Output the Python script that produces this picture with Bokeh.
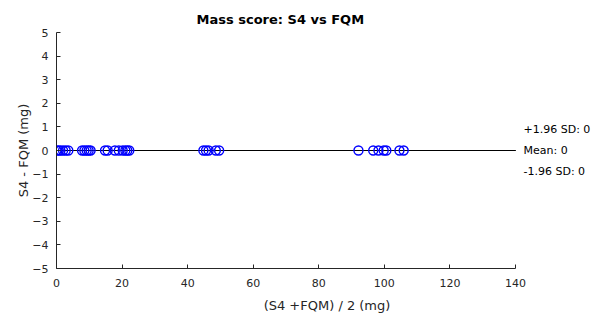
import numpy as np
from bokeh.plotting import figure
from bokeh.models import Range1d, FixedTicker, ColumnDataSource, Title
from bokeh.core.properties import value
from bokeh.embed import file_html
from bokeh.resources import INLINE

title_text = "Mass score: S4 vs FQM"
x_label = "(S4 +FQM) / 2 (mg)"
y_label = "S4 - FQM (mg)"

# Bland-Altman: mean of the two methods (x) and their difference (y)
means = [0.0, 0.6, 1.2, 2.0, 2.8, 3.6,
         7.8, 8.5, 9.2, 9.8, 10.4,
         14.8, 15.6, 17.8, 19.0, 20.2, 21.0, 21.6, 22.2,
         44.8, 45.6, 46.4, 48.6, 49.6,
         92.1, 96.6, 98.2, 99.8, 100.6, 104.6, 105.9]
diffs = [0, 0, 0, 0, 0, 0,
         0, 0, 0, 0, 0,
         0, 0, 0, 0, 0, 0, 0, 0,
         0, 0, 0, 0, 0,
         0, 0, 0, 0, 0, 0, 0]

x_ticks = [0, 20, 40, 60, 80, 100, 120, 140]
y_ticks = [-5, -4, -3, -2, -1, 0, 1, 2, 3, 4, 5]

mean_d = float(np.mean(diffs))
sd_d = float(np.std(diffs, ddof=1))
upper = mean_d + 1.96 * sd_d
lower = mean_d - 1.96 * sd_d
side_labels = [f"+1.96 SD: {upper:g}", f"Mean: {mean_d:g}", f"-1.96 SD: {lower:g}"]
side_y = [upper, mean_d, lower]
side_off = [-21, 0, 21]

FONT = "DejaVu Sans"
AX = "#262626"

W, H = 597, 317
left, right, top, bottom = 56, 0, 32, 49
px_per_unit = (515 - 56) / (x_ticks[-1] - x_ticks[0])
x_end = x_ticks[0] + (W - left - right) / px_per_unit

p = figure(width=W, height=H, output_backend="svg", toolbar_location=None,
           x_range=Range1d(x_ticks[0], x_end), y_range=Range1d(y_ticks[0], y_ticks[-1]),
           min_border_left=left, min_border_right=right, min_border_top=top,
           min_border_bottom=bottom)
p.title = Title(text=title_text, align="left", offset=140, text_font=FONT,
                text_font_size="13px", text_font_style="bold", text_color="black",
                standoff=11)
p.outline_line_color = None
p.background_fill_color = "white"
p.border_fill_color = "white"
p.xgrid.visible = False
p.ygrid.visible = False

for ax in (p.xaxis[0], p.yaxis[0]):
    ax.axis_line_color = AX
    ax.major_tick_line_color = AX
    ax.major_tick_in = 4
    ax.major_tick_out = 0
    ax.minor_tick_line_color = None
    ax.major_label_text_font = FONT
    ax.major_label_text_font_size = "11px"
    ax.major_label_text_color = AX
    ax.axis_label_text_font = FONT
    ax.axis_label_text_font_size = "13px"
    ax.axis_label_text_font_style = "normal"
    ax.axis_label_text_color = AX

p.xaxis.ticker = FixedTicker(ticks=x_ticks)
p.xaxis.bounds = (x_ticks[0], x_ticks[-1])
p.xaxis.axis_label = x_label
p.xaxis.major_label_standoff = 10
p.xaxis.axis_label_standoff = 8

p.yaxis.ticker = FixedTicker(ticks=y_ticks)
p.yaxis.axis_label = y_label
p.yaxis.major_label_standoff = 8
p.yaxis.axis_label_standoff = -2

# limit lines
p.segment(x0=[x_ticks[0]] * 2, x1=[x_ticks[-1]] * 2, y0=[upper, lower], y1=[upper, lower],
          line_color="black", line_width=1, line_dash="4 3")
p.segment(x0=[x_ticks[0]], x1=[x_ticks[-1]], y0=[mean_d], y1=[mean_d],
          line_color="black", line_width=1.2)

p.scatter(x=means, y=diffs, marker="circle", size=9, fill_alpha=0,
          line_color="#0000ff", line_width=1.4)

src = ColumnDataSource(dict(x=[x_ticks[-1]] * 3, y=side_y, t=side_labels, yo=side_off))
p.text(x="x", y="y", text="t", y_offset="yo", x_offset=8, source=src,
       text_font=value(FONT), text_font_size="11px", text_color="black",
       text_align="left", text_baseline="middle")

open("out.html", "w").write(file_html(p, INLINE))
